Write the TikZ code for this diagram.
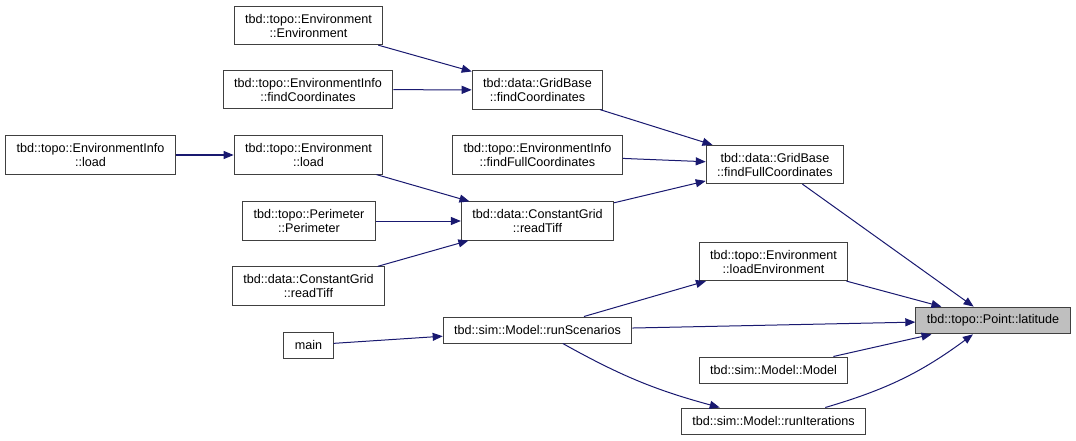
\documentclass[tikz,border=0pt]{standalone}
\usepackage{fontspec}
\setmainfont{Liberation Sans}
\usetikzlibrary{arrows.meta}

\definecolor{edgeblue}{HTML}{191970}
\definecolor{boxline}{HTML}{404040}
\definecolor{hilite}{HTML}{BFBFBF}

\tikzstyle{fn}=[draw=boxline, line width=1pt, align=center, inner xsep=11pt, inner ysep=7.5pt, minimum height=26pt, font=\fontsize{12.6}{14}\selectfont]
\tikzstyle{cur}=[fn, fill=hilite]
\tikzstyle{call}=[draw=edgeblue, line width=1pt, -{Triangle[length=10pt, width=8pt, fill=edgeblue]}]

\begin{document}
\begin{tikzpicture}[x=1pt, y=-1pt]
      \useasboundingbox (0,0) rectangle (1076,441);

      \node[fn] (envenv) at (308.5, 25.5) {tbd::topo::Environment\\::Environment};
      \node[fn] (infofc) at (308, 89.5) {tbd::topo::EnvironmentInfo\\::findCoordinates};
      \node[fn] (gridfc) at (537.5, 90) {tbd::data::GridBase\\::findCoordinates};
      \node[fn] (infold) at (90.5, 155) {tbd::topo::EnvironmentInfo\\::load};
      \node[fn] (envld) at (308.5, 155) {tbd::topo::Environment\\::load};
      \node[fn] (infoffc) at (537.5, 155) {tbd::topo::EnvironmentInfo\\::findFullCoordinates};
      \node[fn] (gridffc) at (775, 164.5) {tbd::data::GridBase\\::findFullCoordinates};
      \node[fn] (perim) at (309, 221) {tbd::topo::Perimeter\\::Perimeter};
      \node[fn] (cgrt) at (537.5, 221) {tbd::data::ConstantGrid\\::readTiff};
      \node[fn] (cgrt2) at (308.5, 286) {tbd::data::ConstantGrid\\::readTiff};
      \node[fn] (loadenv) at (773.5, 261.5) {tbd::topo::Environment\\::loadEnvironment};
      \node[fn] (runsc) at (537.5, 330) {tbd::sim::Model::runScenarios};
      \node[fn] (main) at (308.5, 345) {main};
      \node[cur] (lat) at (993, 320.5) {tbd::topo::Point::latitude};
      \node[fn] (model) at (773.5, 370) {tbd::sim::Model::Model};
      \node[fn] (runit) at (773.5, 421) {tbd::sim::Model::runIterations};

      \draw[call] (envenv) -- (gridfc);
      \draw[call] (infofc) -- (gridfc);
      \draw[call] (gridfc) -- (gridffc);
      \draw[call] (infoffc) -- (gridffc);
      \draw[call] (cgrt) -- (gridffc);
      \draw[call] (infold) -- (envld);
      \draw[call] (envld) -- (cgrt);
      \draw[call] (perim) -- (cgrt);
      \draw[call] (cgrt2) -- (cgrt);

      \draw[call] (gridffc) -- (lat);
      \draw[call] (loadenv) -- (lat);
      \draw[call] (runsc) -- (loadenv);
      \draw[call] (runsc) -- (lat);
      \draw[call] (main) -- (runsc);
      \draw[call] (model) -- (lat);
      \draw[call] (runsc) to[bend right=7] (runit);
      \draw[call] (runit) to[bend right=10] (lat);
\end{tikzpicture}
\end{document}
